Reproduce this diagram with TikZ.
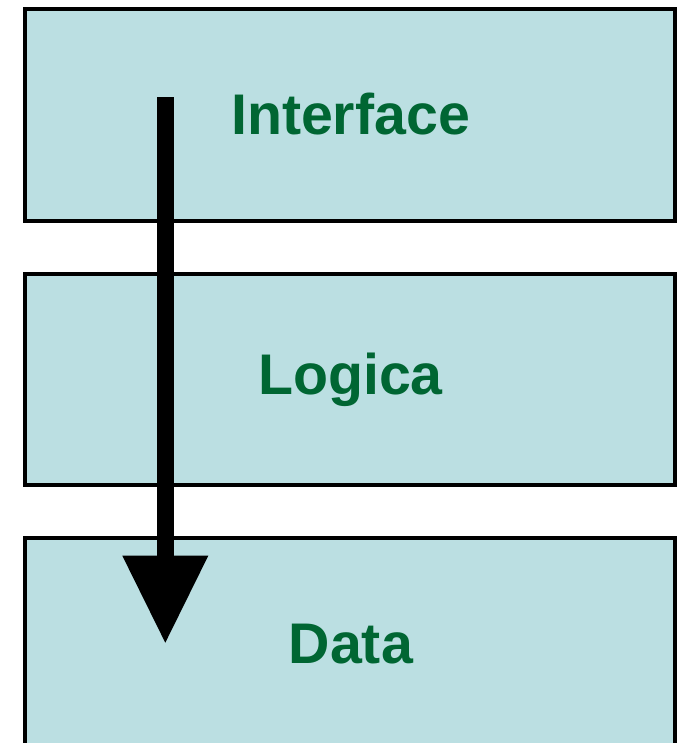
\documentclass[tikz,border=0pt]{standalone}
\usepackage{fontspec}
\setmainfont{Liberation Sans}
\usetikzlibrary{arrows.meta}
\definecolor{layerfill}{RGB}{187,223,226}
\definecolor{layertext}{RGB}{0,102,51}
\tikzset{
  layer/.style={draw=black, line width=4pt, fill=layerfill, inner sep=0pt,
    minimum width=650pt, minimum height=211pt},
  layerlabel/.style={anchor=base, inner sep=0pt, text=layertext,
    font=\fontsize{57.3}{60}\selectfont\bfseries},
  flow/.style={line width=17.3pt, line cap=butt,
    -{Triangle[width=86pt,length=87pt,line width=0pt]}}
}
\begin{document}
\begin{tikzpicture}[x=1pt,y=-1pt]
  \useasboundingbox (0,0) rectangle (677,743);
  \clip (0,0) rectangle (677,743);
  % the three stacked layers
  \node[layer] (iface) at (350,115) {};
  \node[layer] (logic) at (350,379) {};
  \node[layer] (data)  at (350,643.5) {};
  % layer names
  \node[layerlabel] (ifacetxt) at (350.5,134.3) {Interface};
  \node[layerlabel] (logictxt) at (350.5,394.3) {Logica};
  \node[layerlabel] (datatxt)  at (350.8,663.3) {Data};
  % downward call flow
  \coordinate (flowstart) at (165.3,97.3);
  \coordinate (flowend)   at (165.3,642.7);
  \draw[flow] (flowstart) -- (flowend);
\end{tikzpicture}
\end{document}
